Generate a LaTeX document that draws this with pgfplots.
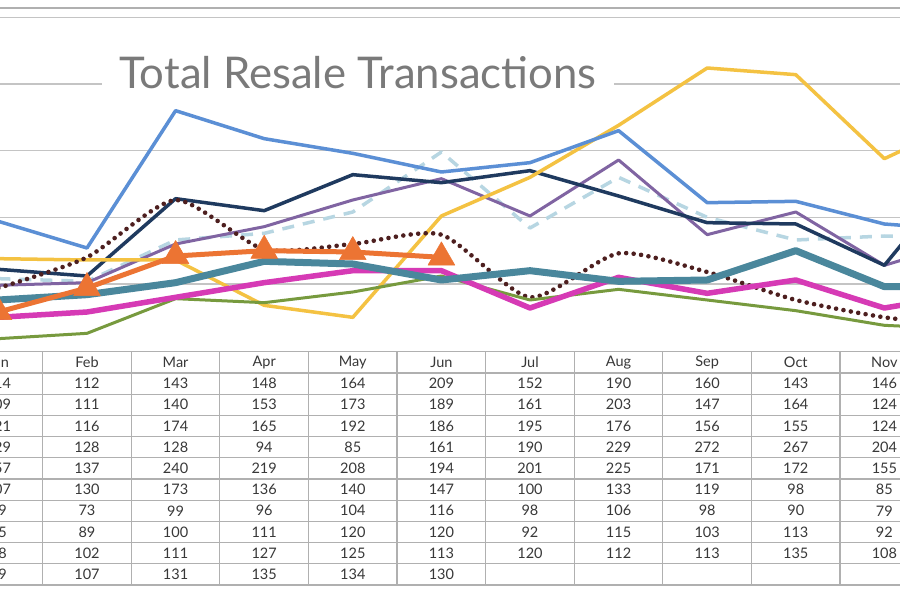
\documentclass[border=0pt]{standalone}
\usepackage{pgfplots}
\pgfplotsset{compat=1.18}
\usepackage{pgfplotstable}
\usepackage{fontspec}
\usepackage{graphicx}
\setmainfont{Lato}
\definecolor{cA}{HTML}{B7D6E2}
\definecolor{cB}{HTML}{8064A2}
\definecolor{cC}{HTML}{1F3A5F}
\definecolor{cD}{HTML}{F4C242}
\definecolor{cE}{HTML}{5B8FD5}
\definecolor{cF}{HTML}{4D1F1F}
\definecolor{cG}{HTML}{779A3E}
\definecolor{cH}{HTML}{D63AB5}
\definecolor{cI}{HTML}{4A879C}
\definecolor{cJ}{HTML}{EC7433}
\definecolor{gridgray}{HTML}{C4C4C4}
\definecolor{topgray}{HTML}{B0B0B0}
\definecolor{tablegray}{HTML}{B0B0B0}
\definecolor{tabletext}{HTML}{383838}
\definecolor{titlegray}{HTML}{7A7A7A}

\pgfplotstableread{
x r1 r2 r3 r4 r5 r6 r7 r8 r9 r10
1 114 109 121 129 157 107 69 85 98 89
2 112 111 116 128 137 130 73 89 102 107
3 143 140 174 128 240 173 99 100 111 131
4 148 153 165 94 219 136 96 111 127 135
5 164 173 192 85 208 140 104 120 125 134
6 209 189 186 161 194 147 116 120 113 130
7 152 161 195 190 201 100 98 92 120 nan
8 190 203 176 229 225 133 106 115 112 nan
9 160 147 156 272 171 119 98 103 113 nan
10 143 164 155 267 172 98 90 113 135 nan
11 146 124 124 204 155 85 79 92 108 nan
12 144 144 205 235 150 78 76 103 108 nan
}\datatable

\begin{document}
\begin{tikzpicture}
\useasboundingbox (0pt,0pt) rectangle (900pt,600pt);
\fill[white] (0pt,0pt) rectangle (900pt,600pt);
\clip (0pt,0pt) rectangle (900pt,600pt);
% chart
\begin{axis}[at={(-45.9pt,249.33pt)}, anchor=south west, scale only axis,
  width=1063.2pt, height=342.67pt,
  xmin=0.5, xmax=12.5, ymin=60, ymax=317,
  axis line style={draw=none},
  xtick=\empty, ytick={110,160,210,260,310}, yticklabels={},
  major tick length=0pt,
  ymajorgrids, grid style={color=gridgray, line width=1.3pt},
  extra y ticks={317}, extra y tick labels={},
  extra y tick style={grid style={color=topgray, line width=2pt}},
  line join=round, line cap=round]
\addplot[cA, line width=3.5pt, dash pattern=on 12pt off 9pt, line cap=butt] table[x=x,y=r1]{\datatable};
\addplot[cB, line width=3pt] table[x=x,y=r2]{\datatable};
\addplot[cC, line width=3.5pt] table[x=x,y=r3]{\datatable};
\addplot[cD, line width=3.5pt] table[x=x,y=r4]{\datatable};
\addplot[cE, line width=3.5pt] table[x=x,y=r5]{\datatable};
\addplot[cF, line width=4.6pt, smooth, tension=0.4, dash pattern=on 0pt off 7.5pt, line cap=round] table[x=x,y=r6]{\datatable};
\addplot[cG, line width=3pt] table[x=x,y=r7]{\datatable};
\addplot[cH, line width=5.5pt] table[x=x,y=r8]{\datatable};
\addplot[cI, line width=7pt] table[x=x,y=r9]{\datatable};
\addplot[cJ, line width=5pt, mark=triangle*, mark size=15.5pt, mark options={fill=cJ, draw=cJ, line width=0.5pt}] table[x=x,y=r10]{\datatable};
\end{axis}
\node[fill=white, inner xsep=17pt, inner ysep=3pt, text=titlegray, anchor=center] at (358pt,527pt)
  {\resizebox{477pt}{!}{Total Resale Transactions}};
% table
\begin{axis}[at={(-45.9pt,15pt)}, anchor=south west, scale only axis,
  width=1063.2pt, height=233.3pt,
  xmin=0.5, xmax=12.5, ymin=0, ymax=11,
  axis line style={draw=none},
  xtick={0.5,1.5,...,12.5}, ytick={0,1,...,11},
  xticklabels={}, yticklabels={}, major tick length=0pt,
  grid=major, grid style={color=tablegray, line width=1.2pt},
  every node near coord/.append style={anchor=center, font=\fontsize{14.5}{14.5}\selectfont, text=tabletext}]
\addplot[draw=none, nodes near coords, point meta=explicit symbolic] coordinates {
 (1,10.5)[Jan] (2,10.5)[Feb] (3,10.5)[Mar] (4,10.5)[Apr] (5,10.5)[May] (6,10.5)[Jun]
 (7,10.5)[Jul] (8,10.5)[Aug] (9,10.5)[Sep] (10,10.5)[Oct] (11,10.5)[Nov] (12,10.5)[Dec]};
\addplot[draw=none, nodes near coords, point meta=explicit symbolic] table[x=x, y expr=\thisrow{r1}*0+9.5, meta=r1]{\datatable};
\addplot[draw=none, nodes near coords, point meta=explicit symbolic] table[x=x, y expr=\thisrow{r2}*0+8.5, meta=r2]{\datatable};
\addplot[draw=none, nodes near coords, point meta=explicit symbolic] table[x=x, y expr=\thisrow{r3}*0+7.5, meta=r3]{\datatable};
\addplot[draw=none, nodes near coords, point meta=explicit symbolic] table[x=x, y expr=\thisrow{r4}*0+6.5, meta=r4]{\datatable};
\addplot[draw=none, nodes near coords, point meta=explicit symbolic] table[x=x, y expr=\thisrow{r5}*0+5.5, meta=r5]{\datatable};
\addplot[draw=none, nodes near coords, point meta=explicit symbolic] table[x=x, y expr=\thisrow{r6}*0+4.5, meta=r6]{\datatable};
\addplot[draw=none, nodes near coords, point meta=explicit symbolic] table[x=x, y expr=\thisrow{r7}*0+3.5, meta=r7]{\datatable};
\addplot[draw=none, nodes near coords, point meta=explicit symbolic] table[x=x, y expr=\thisrow{r8}*0+2.5, meta=r8]{\datatable};
\addplot[draw=none, nodes near coords, point meta=explicit symbolic] table[x=x, y expr=\thisrow{r9}*0+1.5, meta=r9]{\datatable};
\addplot[draw=none, nodes near coords, point meta=explicit symbolic] table[x=x, y expr=\thisrow{r10}*0+0.5, meta=r10]{\datatable};
\end{axis}
\end{tikzpicture}
\end{document}
